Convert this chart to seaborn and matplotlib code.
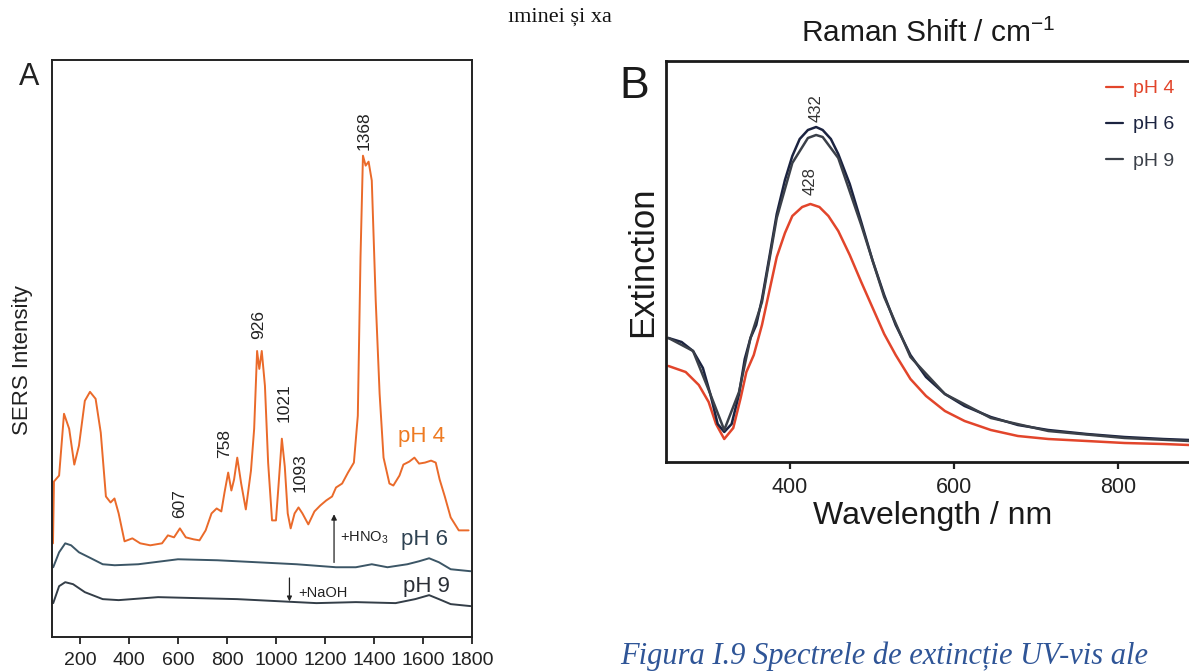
import matplotlib
matplotlib.use("Agg")
import matplotlib.pyplot as plt
import seaborn as sns
import pandas as pd

# ---------------- Panel A: SERS spectra (Raman shift cm-1, arbitrary intensity) ----------------
ph4_shift = [90, 94, 115, 135, 156, 177, 196, 220, 241, 264, 285, 306, 325, 341, 358, 382, 414,
             446, 487, 535, 559, 584, 608, 632, 664, 688, 713, 737, 758, 777, 790, 805, 818, 829,
             842, 858, 877, 898, 911, 923, 932, 942, 955, 968, 984, 1000, 1011, 1024, 1036, 1048,
             1060, 1076, 1092, 1108, 1132, 1157, 1181, 1205, 1229, 1245, 1270, 1294, 1318, 1334,
             1345, 1355, 1366, 1378, 1391, 1407, 1423, 1439, 1463, 1479, 1504, 1520, 1544, 1565,
             1584, 1608, 1633, 1652, 1668, 1689, 1713, 1746, 1786]
ph4_int = [92, 154, 160, 222, 207, 171, 190, 235, 244, 237, 203, 139, 133, 137, 122, 94, 97,
           92, 90, 92, 100, 98, 107, 98, 96, 95, 105, 122, 127, 124, 143, 163, 145, 156,
           178, 152, 126, 165, 207, 285, 267, 285, 250, 173, 115, 115, 152, 197, 169, 122,
           107, 122, 128, 122, 111, 124, 130, 135, 139, 148, 152, 163, 173, 220,
           379, 481, 471, 475, 456, 336, 242, 178, 152, 150, 160, 171, 174, 178,
           172, 173, 175, 173, 156, 139, 118, 105, 105]

ph6_shift = [91, 115, 140, 164, 196, 245, 293, 342, 438, 600, 761, 923, 1084, 1245, 1326, 1391,
             1455, 1536, 1584, 1625, 1665, 1713, 1794]
ph6_int = [68, 83, 92, 90, 83, 77, 71, 70, 71, 76, 75, 73, 71, 68, 68, 71,
           68, 71, 74, 77, 73, 66, 64]

ph9_shift = [91, 115, 140, 172, 220, 293, 358, 519, 680, 842, 1003, 1084, 1165, 1326, 1488, 1568,
             1625, 1665, 1713, 1794]
ph9_int = [32, 49, 53, 51, 43, 36, 35, 38, 37, 36, 34, 33, 32, 33, 32, 36,
           40, 36, 31, 29]

peak_shifts = [1368, 926, 1021, 758, 1093, 607]
peak_text_x = [1358, 929, 1032, 790, 1100, 608]
peak_text_y = [506, 312, 233, 192, 163, 132]

# ---------------- Panel B: UV-vis extinction ----------------
wl6 = [252, 268, 282, 294, 303, 312, 320, 329, 338, 345, 352, 359, 366, 375, 384, 394, 403,
       412, 422, 432, 440, 450, 459, 473, 487, 501, 515, 529, 547, 566, 589, 613, 645, 678,
       715, 762, 808, 855, 887]
ext6 = [124, 120, 111, 94, 68, 38, 30, 38, 68, 103, 124, 137, 163, 205, 248, 282, 306,
        323, 332, 335, 332, 323, 308, 278, 240, 201, 167, 137, 107, 85, 68, 56, 45, 37,
        32, 28, 25, 23, 22]

wl9 = [252, 282, 303, 320, 338, 352, 366, 384, 403, 422, 432, 440, 459, 487, 515, 547, 589,
       645, 715, 808, 887]
ext9 = [124, 111, 68, 32, 70, 124, 160, 244, 299, 324, 327, 325, 304, 237, 165, 105, 68,
        44, 31, 24, 21]

wl4 = [252, 273, 289, 301, 310, 320, 331, 340, 347, 356, 366, 375, 384, 394, 403, 415, 425,
       436, 447, 459, 473, 487, 501, 515, 529, 547, 566, 589, 613, 645, 678, 715, 762, 808,
       855, 887]
ext4 = [96, 90, 77, 60, 38, 23, 34, 64, 90, 107, 137, 171, 205, 229, 246, 255, 258,
        255, 246, 231, 207, 180, 154, 128, 107, 83, 66, 51, 41, 32, 26, 23, 21, 19,
        18, 17]

uv_peaks = ["432", "428"]
uv_peak_x = [432, 425]
uv_peak_y = [354, 281]

series_labels = ["pH 4", "pH 6", "pH 9"]
colA = {"pH 4": "#EA6A2A", "pH 6": "#3C5666", "pH 9": "#343E48"}
colB = {"pH 4": "#E2452B", "pH 6": "#1B2340", "pH 9": "#3B4049"}

dfA = pd.concat([
    pd.DataFrame({"shift": ph4_shift, "I": ph4_int, "s": "pH 4"}),
    pd.DataFrame({"shift": ph6_shift, "I": ph6_int, "s": "pH 6"}),
    pd.DataFrame({"shift": ph9_shift, "I": ph9_int, "s": "pH 9"}),
])
dfB = pd.concat([
    pd.DataFrame({"wl": wl4, "E": ext4, "s": "pH 4"}),
    pd.DataFrame({"wl": wl6, "E": ext6, "s": "pH 6"}),
    pd.DataFrame({"wl": wl9, "E": ext9, "s": "pH 9"}),
])

sns.set_theme(style="white")
plt.rcParams["font.family"] = ["Liberation Sans", "DejaVu Sans"]
plt.rcParams["mathtext.fontset"] = "custom"
plt.rcParams["mathtext.rm"] = "Liberation Sans"

W, H = 1189, 671
fig = plt.figure(figsize=(W / 100, H / 100), dpi=100)

def px(x0, y0, x1, y1):
    return [x0 / W, 1 - y1 / H, (x1 - x0) / W, (y1 - y0) / H]

# ---- Panel A ----
axA = fig.add_axes(px(52, 60, 472, 637))
sns.lineplot(data=dfA, x="shift", y="I", hue="s", palette=colA, sort=False,
             estimator=None, lw=1.4, legend=False, ax=axA)
axA.set_xlim(86, 1800)
axA.set_ylim(-2, 577)
axA.set_xticks([200, 400, 600, 800, 1000, 1200, 1400, 1600, 1800])
axA.set_yticks([])
axA.tick_params(axis="x", direction="out", length=5, width=1.3, pad=6,
                labelsize=14, colors="#222222", bottom=True)
for sp in axA.spines.values():
    sp.set_color("#222222")
    sp.set_linewidth(1.4)
axA.set_xlabel("")
axA.set_ylabel("SERS Intensity", fontsize=16, color="#222222")
axA.yaxis.set_label_coords(-0.046, 0.48)

for t, x, y in zip(peak_shifts, peak_text_x, peak_text_y):
    axA.text(x, y, str(t), rotation=90, ha="center", va="center", fontsize=12.5, color="#222222")

axA.text(1498, 199, "pH 4", fontsize=16, color="#EE7A22", va="center")
axA.text(1510, 96, "pH 6", fontsize=16, color="#2E4252", va="center")
axA.text(1518, 49, "pH 9", fontsize=16, color="#2B2F36", va="center")

axA.annotate("", xy=(1237, 124), xytext=(1237, 70),
             arrowprops=dict(arrowstyle="-|>", lw=0.9, color="#222222", mutation_scale=8))
axA.text(1262, 98, "+HNO$_3$", fontsize=10.5, color="#222222", va="center")
axA.annotate("", xy=(1055, 31), xytext=(1055, 60),
             arrowprops=dict(arrowstyle="-|>", lw=0.9, color="#222222", mutation_scale=7))
axA.text(1090, 42, "+NaOH", fontsize=10.5, color="#222222", va="center")

fig.text(29 / W, 1 - 77 / H, "A", fontsize=22, ha="center", va="center", color="#222222")

# ---- Panel B ----
axB = fig.add_axes(px(666, 61, 1200, 462))
sns.lineplot(data=dfB, x="wl", y="E", hue="s", palette=colB, sort=False,
             estimator=None, lw=1.8, ax=axB)
axB.set_xlim(249, 900)
axB.set_ylim(0, 401)
axB.set_xticks([400, 600, 800])
axB.set_yticks([])
axB.tick_params(axis="x", direction="out", length=5, width=1.6, pad=6,
                labelsize=15.5, colors="#222222", bottom=True)
for sp in axB.spines.values():
    sp.set_color("#1a1a1a")
    sp.set_linewidth(2.0)
axB.set_xlabel("Wavelength / nm", fontsize=23, color="#1a1a1a", labelpad=2)
axB.set_ylabel("Extinction", fontsize=25, color="#1a1a1a", labelpad=5)

for t, x, y in zip(uv_peaks, uv_peak_x, uv_peak_y):
    axB.text(x, y, t, rotation=90, ha="center", va="center", fontsize=12, color="#333333")

leg = axB.legend(loc="upper left", bbox_to_anchor=((1098 - 666) / 534, 1 - (72 - 61) / 401),
                 frameon=False, fontsize=14, handlelength=0.9, handletextpad=0.5,
                 labelspacing=0.95, borderaxespad=0)
for line in leg.get_lines():
    line.set_linewidth(1.6)
for txt, s in zip(leg.get_texts(), series_labels):
    txt.set_color(colB[s])

fig.text(634 / W, 1 - 87 / H, "B", fontsize=32, ha="center", va="center", color="#1a1a1a")

fig.text(928 / W, 1 - 33 / H, "Raman Shift / cm$^{-1}$", fontsize=21.5,
         ha="center", va="center", color="#1a1a1a")

fig.text(508 / W, 1 - 17 / H, "ıminei și xa", fontsize=16, ha="left", va="center",
         family=["Liberation Serif", "DejaVu Serif"], color="#111111")

fig.text(620 / W, 1 - 664 / H, "Figura I.9 Spectrele de extincție UV-vis ale", fontsize=22,
         ha="left", va="baseline", style="italic",
         family=["Liberation Serif", "DejaVu Serif"], color="#2F5597")

fig.savefig("out.png", dpi=100)
